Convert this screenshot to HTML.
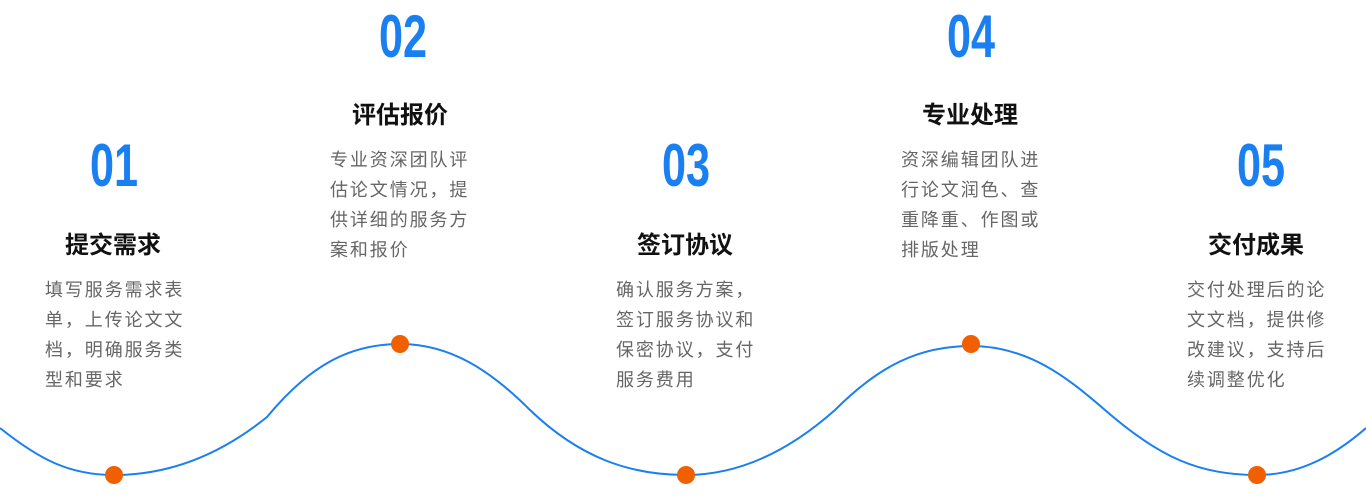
<!DOCTYPE html>
<html><head><meta charset="utf-8"><style>
body{margin:0;width:1366px;height:502px;background:#fff;position:relative;overflow:hidden;font-family:"Liberation Sans","Noto Sans CJK SC",sans-serif}
.n{position:absolute;width:160px;margin-left:-80px;text-align:center;font-family:"Liberation Sans Narrow","Liberation Sans",sans-serif;font-weight:bold;font-size:60px;line-height:60px;color:#1a7ff0;transform:scaleX(0.72)}
.t{position:absolute;width:200px;margin-left:-100px;text-align:center;font-weight:bold;font-size:24px;line-height:30px;color:#111}
.p{position:absolute;width:150px;font-size:18px;line-height:30px;letter-spacing:1.9px;color:#666}
svg{position:absolute;left:0;top:0}
</style></head><body>
<svg width="1366" height="502">
<path d="M0,428 C40,460 70,475 114,475 C170,475 220,455 267,417 C310,365 350,344 400,344 C450,344 490,370 530,410 C580,458 630,475 686,475 C740,475 790,450 835,410 C880,365 920,346 971,346 C1030,346 1070,380 1105,410 C1160,458 1200,475 1257,475 C1300,475 1335,455 1366,428" fill="none" stroke="#1a7ff0" stroke-width="2"/>
<g fill="#f06000"><circle cx="114" cy="475" r="9"/><circle cx="400" cy="344" r="9"/><circle cx="686" cy="475" r="9"/><circle cx="971" cy="344" r="9"/><circle cx="1257" cy="475" r="9"/></g>
</svg>
<div class="n" style="left:114px;top:136px">01</div>
<div class="n" style="left:403px;top:7px">02</div>
<div class="n" style="left:686px;top:136px">03</div>
<div class="n" style="left:971px;top:7px">04</div>
<div class="n" style="left:1261px;top:136px">05</div>
<div class="t" style="left:113px;top:231px">提交需求</div>
<div class="t" style="left:400px;top:101px">评估报价</div>
<div class="t" style="left:685px;top:231px">签订协议</div>
<div class="t" style="left:970px;top:101px">专业处理</div>
<div class="t" style="left:1256px;top:231px">交付成果</div>
<div class="p" style="left:45px;top:275px">填写服务需求表单，上传论文文档，明确服务类型和要求</div>
<div class="p" style="left:330px;top:145px">专业资深团队评估论文情况，提供详细的服务方案和报价</div>
<div class="p" style="left:616px;top:275px">确认服务方案，签订服务协议和保密协议，支付服务费用</div>
<div class="p" style="left:901px;top:145px">资深编辑团队进行论文润色、查重降重、作图或排版处理</div>
<div class="p" style="left:1187px;top:275px">交付处理后的论文文档，提供修改建议，支持后续调整优化</div>
</body></html>
